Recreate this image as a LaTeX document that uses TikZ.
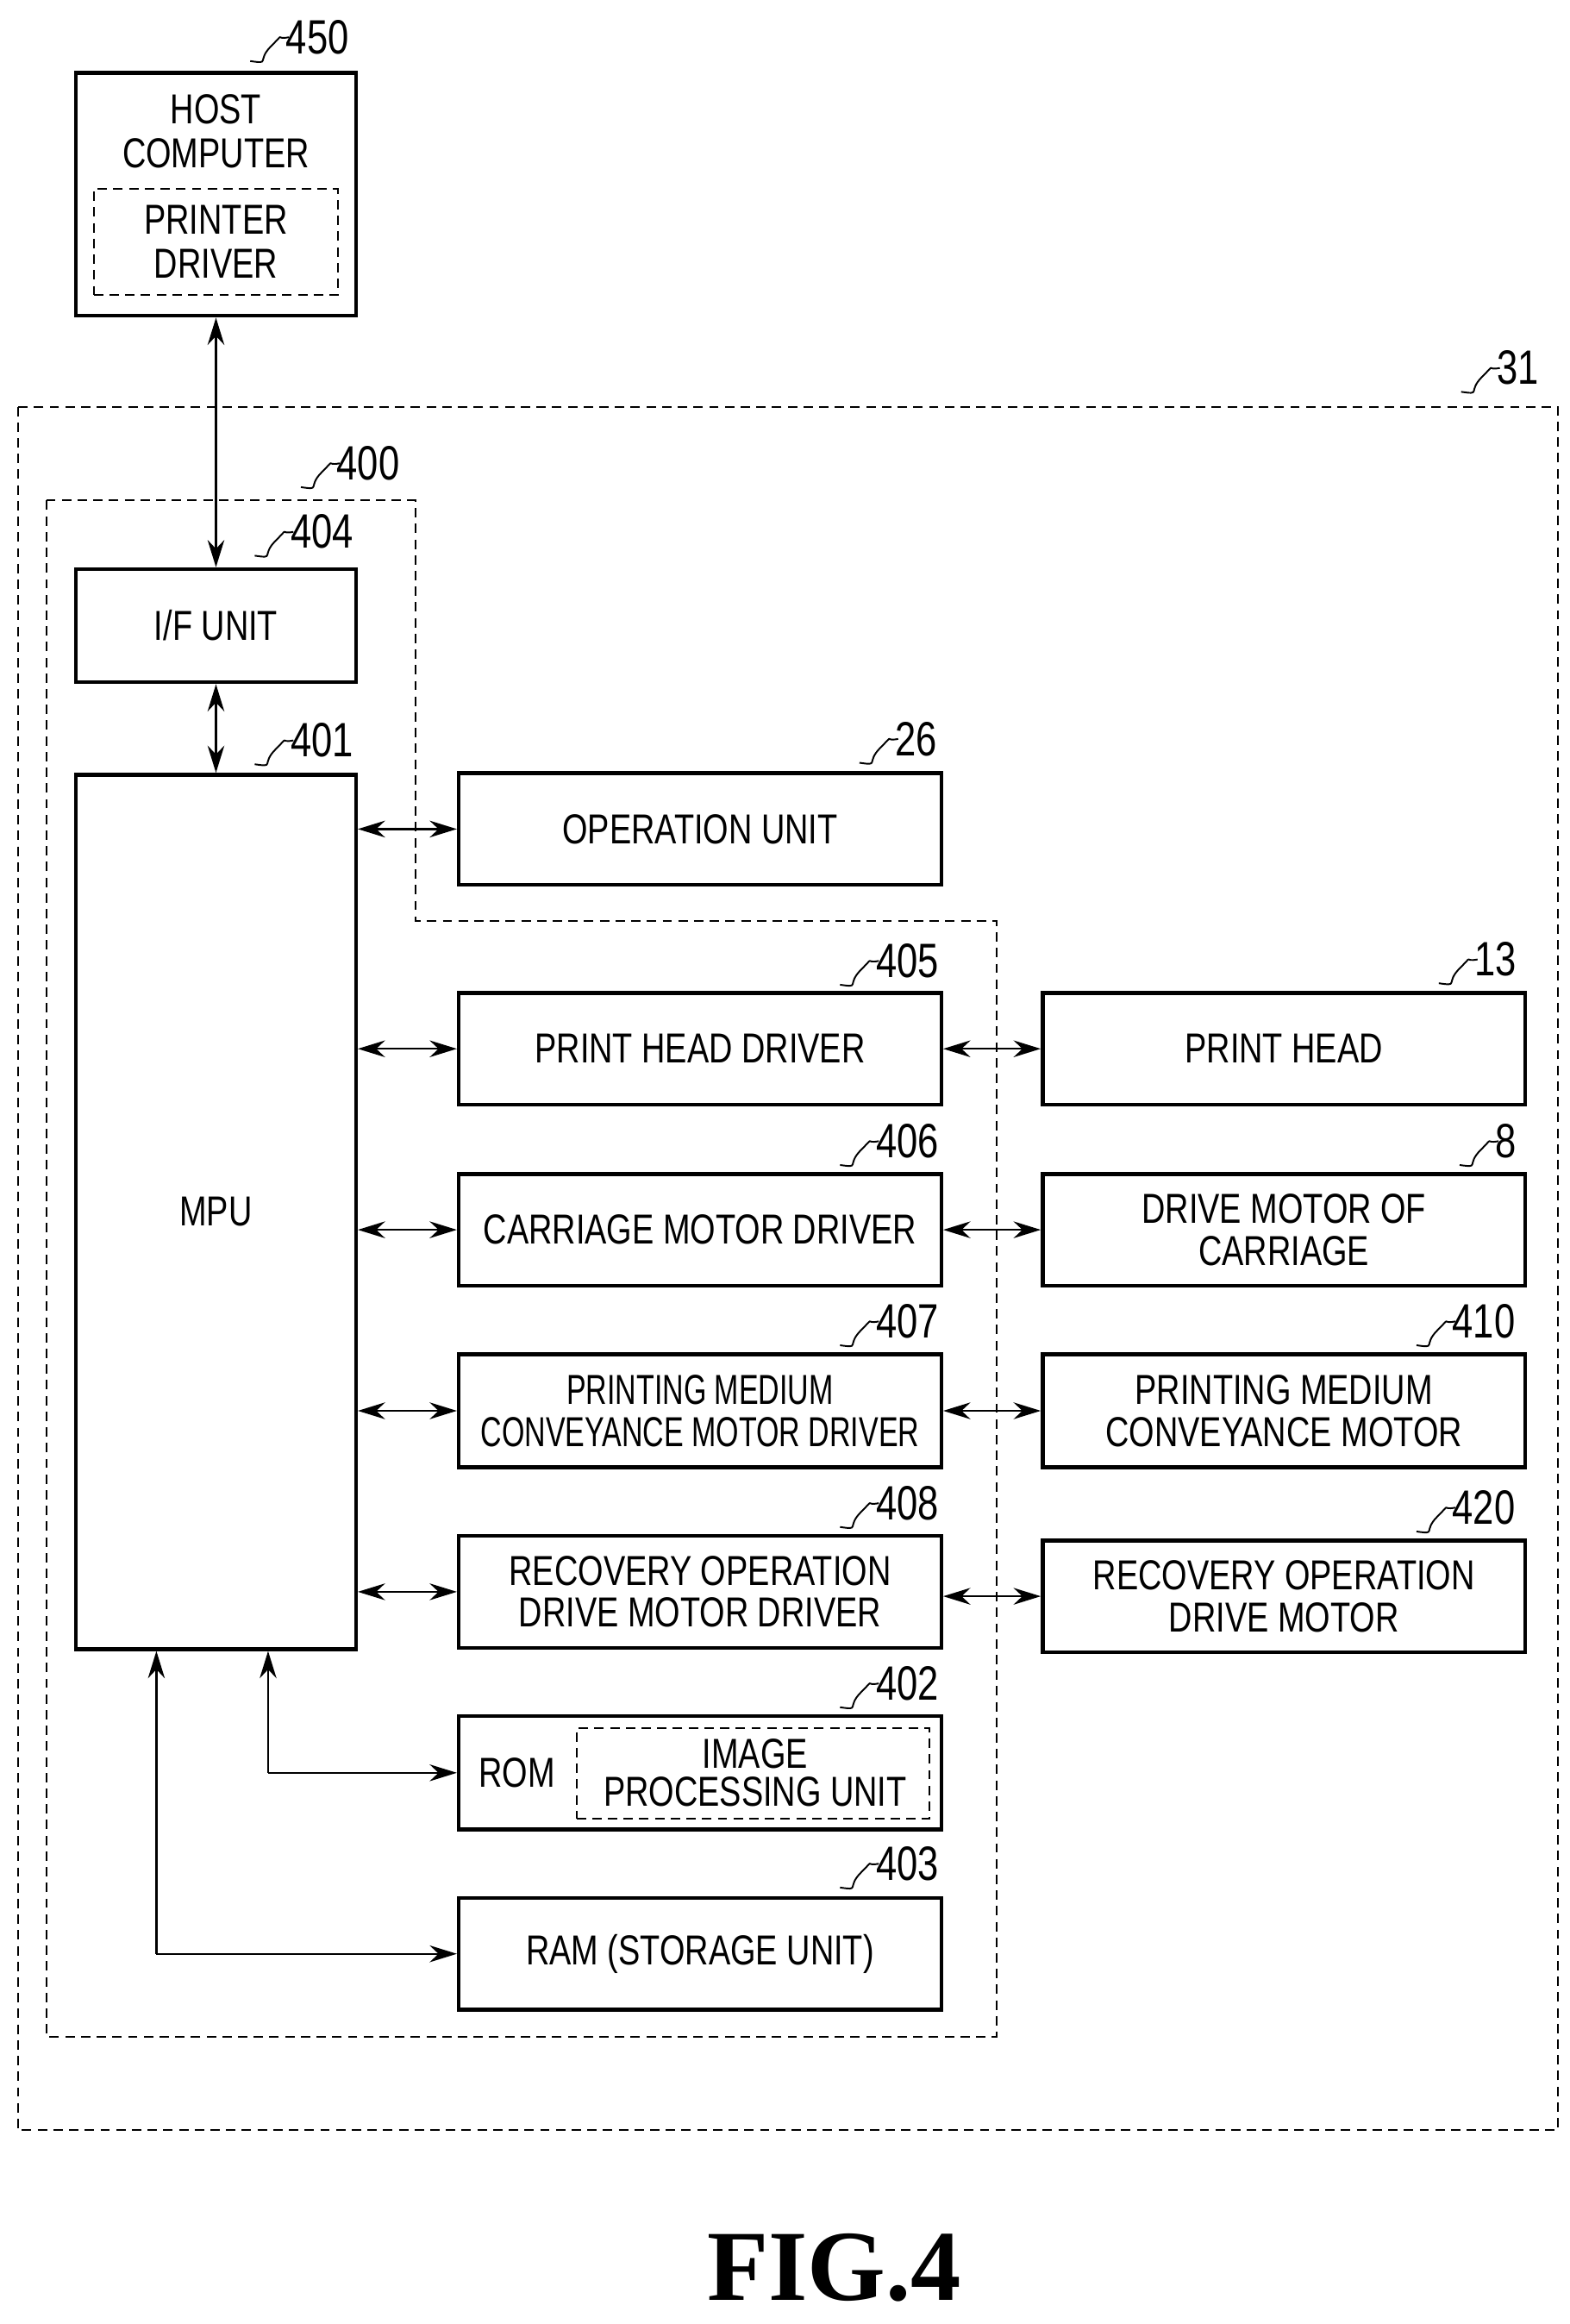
\documentclass[tikz,border=0pt]{standalone}
\usepackage{fontspec}
\setmainfont{Liberation Sans}[FakeStretch=0.78]
\newfontfamily\narrowfont{Liberation Sans}[FakeStretch=0.7]
\newfontfamily\figfont{Liberation Serif}
\usetikzlibrary{arrows.meta,calc}
\begin{document}
\begin{tikzpicture}[x=0.05cm,y=-0.05cm,
  box/.style={draw,line width=3.6pt,align=center,font=\fontsize{40}{40}\selectfont},
  dbox/.style={draw,dash pattern=on 9pt off 6pt,line width=1.6pt},
  lbl/.style={anchor=west,inner sep=0pt,font=\fontsize{46}{46}\selectfont},
  ar/.style={line width=2pt,{Stealth[length=26pt,width=16pt]}-{Stealth[length=26pt,width=16pt]}},
  sa/.style={line width=2pt,-{Stealth[length=26pt,width=16pt]}},
  ld/.style={line width=1.6pt}]
\useasboundingbox (0,0) rectangle (1054,1560);
\newcommand{\lead}[3]{\node[lbl] (#1) at #2 {#3};
  \draw[ld] ($(#1.west)+(-24,16)$) .. controls +(14,2) and +(-10,10) .. ($(#1.west)+(-10,6)$) .. controls +(10,-10) and +(-10,2) .. ($(#1.west)+(2,0)$);}
% outer dashed
\draw[dbox] (12,273) rectangle (1046,1430);
\draw[dbox] (31,336) -- (279,336) -- (279,618) -- (669,618) -- (669,1367) -- (31,1367) -- cycle;
% host
\node[box,minimum width=9.4cm,minimum height=8.15cm] (host) at (145,130.5) {};
\node[dbox,minimum width=8.2cm,minimum height=3.55cm] (pd) at (145,162.5) {};
\node[align=center,font=\fontsize{40}{42}\selectfont] (ht) at (145,88) {HOST\\COMPUTER};
\node[align=center,font=\fontsize{40}{42}\selectfont] (pt) at (145,162) {PRINTER\\DRIVER};
% blocks
\node[box,minimum width=9.4cm,minimum height=3.8cm] (if) at (145,420) {I/F UNIT};
\node[box,minimum width=9.4cm,minimum height=29.35cm] (mpu) at (145,813.5) {MPU};
\node[box,minimum width=16.2cm,minimum height=3.75cm] (op) at (470,556.5) {OPERATION UNIT};
\node[box,minimum width=16.2cm,minimum height=3.75cm] (phd) at (470,704) {PRINT HEAD DRIVER};
\node[box,minimum width=16.2cm,minimum height=3.75cm] (cmd) at (470,825.5) {CARRIAGE MOTOR DRIVER};
\node[box,minimum width=16.2cm,minimum height=3.8cm,inner sep=0pt,font=\narrowfont\fontsize{40}{40}\selectfont] (pmd) at (470,947) {PRINTING MEDIUM\\CONVEYANCE MOTOR DRIVER};
\node[box,minimum width=16.2cm,minimum height=3.75cm,inner sep=0pt] (rmd) at (470,1068.5) {RECOVERY OPERATION\\DRIVE MOTOR DRIVER};
\node[box,minimum width=16.2cm,minimum height=3.8cm] (rom) at (470,1190) {};
\node[dbox,minimum width=11.85cm,minimum height=3.05cm] (ipu) at (505.5,1190.5) {};
\node[font=\fontsize{40}{40}\selectfont] (romt) at (347,1190) {ROM};
\node[align=center,font=\fontsize{40}{36}\selectfont,inner sep=0pt] (ipt) at (507,1190) {IMAGE\\PROCESSING UNIT};
\node[box,minimum width=16.2cm,minimum height=3.75cm] (ram) at (470,1311.5) {RAM (STORAGE UNIT)};
\node[box,minimum width=16.2cm,minimum height=3.75cm] (ph) at (862,704) {PRINT HEAD};
\node[box,minimum width=16.2cm,minimum height=3.75cm,inner sep=0pt] (dm) at (862,825.5) {DRIVE MOTOR OF\\CARRIAGE};
\node[box,minimum width=16.2cm,minimum height=3.8cm,inner sep=0pt] (pm) at (862,947) {PRINTING MEDIUM\\CONVEYANCE MOTOR};
\node[box,minimum width=16.2cm,minimum height=3.75cm,inner sep=0pt] (rm) at (862,1071.5) {RECOVERY OPERATION\\DRIVE MOTOR};
% connectors
\draw[ar] (host.south) -- (if.north);
\draw[ar] (if.south) -- (mpu.north);
\draw[ar] (mpu.east |- op.west) -- (op.west);
\draw[ar] (mpu.east |- phd.west) -- (phd.west);
\draw[ar] (mpu.east |- cmd.west) -- (cmd.west);
\draw[ar] (mpu.east |- pmd.west) -- (pmd.west);
\draw[ar] (mpu.east |- rmd.west) -- (rmd.west);
\draw[ar] (phd.east) -- (ph.west);
\draw[ar] (cmd.east) -- (dm.west);
\draw[ar] (pmd.east) -- (pm.west);
\draw[ar] (rmd.east |- rm.west) -- (rm.west);
\coordinate (r1) at (180,1190);
\coordinate (r2) at (105,1311.5);
\draw[sa] (r1) -- (r1 |- mpu.south);
\draw[sa] (r1) -- (rom.west);
\draw[sa] (r2) -- (r2 |- mpu.south);
\draw[sa] (r2) -- (ram.west);
% labels
\lead{l450}{(192,25)}{450}
\lead{l31}{(1005,247)}{31}
\lead{l400}{(226,311)}{400}
\lead{l404}{(195,357)}{404}
\lead{l401}{(195,497)}{401}
\lead{l26}{(601,496)}{26}
\lead{l405}{(588,645)}{405}
\lead{l406}{(588,766)}{406}
\lead{l407}{(588,887)}{407}
\lead{l408}{(588,1009)}{408}
\lead{l402}{(588,1130)}{402}
\lead{l403}{(588,1251)}{403}
\lead{l13}{(990,644)}{13}
\lead{l8}{(1004,766)}{8}
\lead{l410}{(975,887)}{410}
\lead{l420}{(975,1012)}{420}
\node[font=\figfont\bfseries\fontsize{96}{96}\selectfont] (fig) at (560,1522) {FIG.4};
\end{tikzpicture}
\end{document}
